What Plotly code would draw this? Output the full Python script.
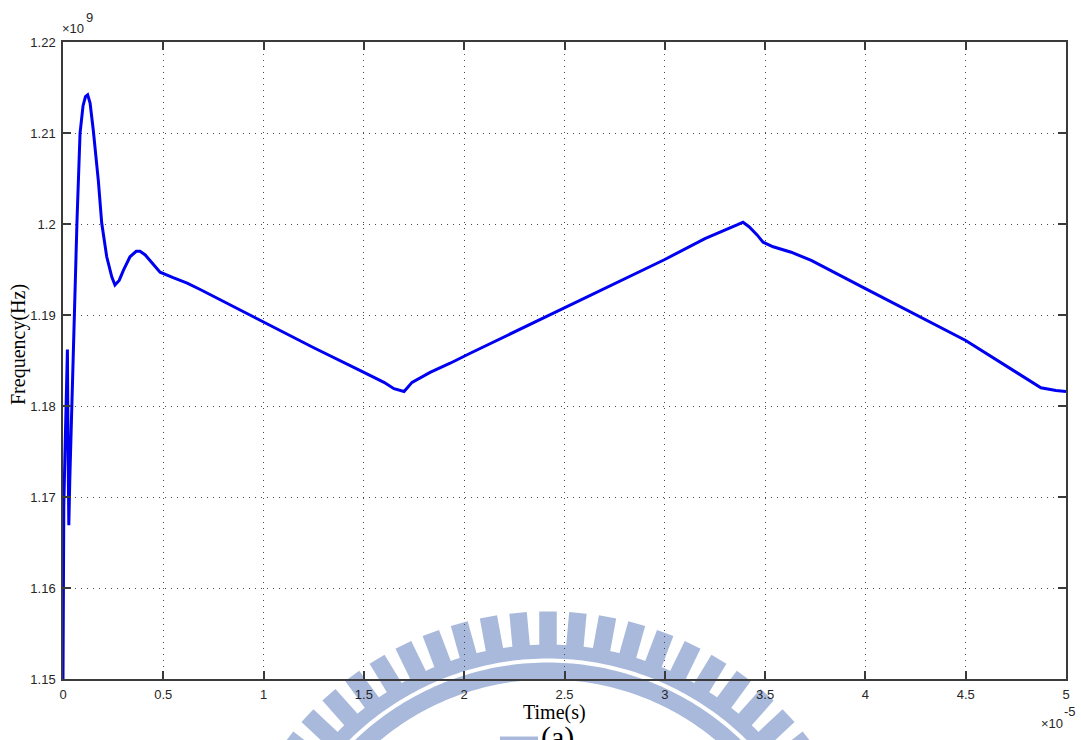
import math
import plotly.graph_objects as go

# Time in units of 1e-5 s, frequency in units of 1e9 Hz
time_e5 = [0.0, 0.0015, 0.004, 0.009, 0.014, 0.019, 0.022, 0.025, 0.029, 0.034,
           0.040, 0.047, 0.055, 0.060, 0.070, 0.085, 0.100, 0.112, 0.123, 0.135,
           0.151, 0.176, 0.193, 0.218, 0.243, 0.259, 0.280, 0.301, 0.334, 0.365,
           0.384, 0.410, 0.434, 0.484, 0.549, 0.619, 0.684, 0.85, 1.0, 1.25,
           1.5, 1.6, 1.65, 1.68, 1.70, 1.72, 1.74, 1.83, 1.93, 2.03,
           2.5, 3.0, 3.2, 3.3, 3.36, 3.39, 3.42, 3.46, 3.49, 3.54,
           3.63, 3.73, 3.84, 4.0, 4.5, 4.875, 4.95, 5.0]
freq_e9 = [1.1500, 1.1611, 1.1690, 1.1740, 1.1790, 1.1810, 1.1862, 1.1760, 1.1669, 1.1720,
           1.1770, 1.1830, 1.1890, 1.1924, 1.2005, 1.2100, 1.2130, 1.2140, 1.2142, 1.2133,
           1.2103, 1.2048, 1.2001, 1.1964, 1.1942, 1.1933, 1.1938, 1.1949, 1.1964, 1.1970,
           1.1970, 1.1966, 1.1960, 1.1947, 1.1941, 1.1935, 1.1928, 1.1909, 1.1892, 1.1864,
           1.1837, 1.1826, 1.1819, 1.1817, 1.1816, 1.1821, 1.1826, 1.1837, 1.1847, 1.1858,
           1.1908, 1.1961, 1.1984, 1.1993, 1.1999, 1.2002, 1.1997, 1.1988, 1.1980, 1.1975,
           1.1969, 1.1960, 1.1947, 1.1929, 1.1872, 1.1820, 1.1817, 1.1816]

x_tick_vals = [0, 0.5, 1, 1.5, 2, 2.5, 3, 3.5, 4, 4.5, 5]
x_tick_text = ["0", "0.5", "1", "1.5", "2", "2.5", "3", "3.5", "4", "4.5", "5"]
y_tick_vals = [1.15, 1.16, 1.17, 1.18, 1.19, 1.20, 1.21, 1.22]
y_tick_text = ["1.15", "1.16", "1.17", "1.18", "1.19", "1.2", "1.21", "1.22"]

W, H = 1081, 740
ML, MR, MT, MB = 63, 15, 42, 61
PW = W - ML - MR
PH = H - MT - MB


def paper_x(px):
    return (px - ML) / PW


def paper_y(py):
    return (H - MB - py) / PH


def path_from(points):
    s = "M " + " L ".join(f"{paper_x(a):.5f},{paper_y(b):.5f}" for a, b in points)
    return s + " Z"


# Watermark emblem (toothed ring) in page pixel geometry
CX, CY = 548.0, 941.5
EMBLEM = "#a9b9dc"


def arc_band(r_out, r_in, a0=-78, a1=78, step=1.0):
    pts = []
    n = int((a1 - a0) / step)
    for i in range(n + 1):
        a = math.radians(a0 + i * step)
        pts.append((CX + r_out * math.sin(a), CY - r_out * math.cos(a)))
    for i in range(n, -1, -1):
        a = math.radians(a0 + i * step)
        pts.append((CX + r_in * math.sin(a), CY - r_in * math.cos(a)))
    return path_from(pts)


def tooth(angle_deg, r_in, r_out, width):
    a = math.radians(angle_deg)
    ux, uy = math.sin(a), -math.cos(a)
    vx, vy = math.cos(a), math.sin(a)
    h = width / 2
    pts = [
        (CX + ux * r_in - vx * h, CY + uy * r_in - vy * h),
        (CX + ux * r_out - vx * h, CY + uy * r_out - vy * h),
        (CX + ux * r_out + vx * h, CY + uy * r_out + vy * h),
        (CX + ux * r_in + vx * h, CY + uy * r_in + vy * h),
    ]
    return path_from(pts)


shapes = []
for k in range(-15, 16):
    shapes.append(dict(type="path", path=tooth(k * 5.2, 296, 330, 17.5),
                       xref="paper", yref="paper", fillcolor=EMBLEM,
                       line=dict(width=0), layer="below"))
shapes.append(dict(type="path", path=arc_band(297, 283), xref="paper", yref="paper",
                   fillcolor=EMBLEM, line=dict(width=0), layer="below"))
shapes.append(dict(type="path", path=arc_band(279, 262), xref="paper", yref="paper",
                   fillcolor=EMBLEM, line=dict(width=0), layer="below"))
shapes.append(dict(type="rect", x0=paper_x(500), x1=paper_x(538), y0=paper_y(746),
                   y1=paper_y(736.5), xref="paper", yref="paper",
                   fillcolor=EMBLEM, line=dict(width=0), layer="below"))

fig = go.Figure()
fig.add_trace(go.Scatter(
    x=time_e5, y=freq_e9, mode="lines",
    line=dict(color="#0000f0", width=3),
    showlegend=False, hoverinfo="skip",
))

axis_common = dict(
    showline=True, linecolor="#3a3a3a", linewidth=1.5, mirror="allticks",
    ticks="inside", ticklen=8, tickwidth=1.5, tickcolor="#3a3a3a",
    showgrid=True, gridcolor="#4a4a4a", gridwidth=1.2, griddash="1px,5px",
    zeroline=False,
    tickfont=dict(family="Liberation Sans, Arial, sans-serif", size=13, color="#262626"),
)

fig.update_xaxes(range=[0, 5], tickvals=x_tick_vals, ticktext=x_tick_text,
                 ticklabelstandoff=3, **axis_common)
fig.update_yaxes(range=[1.15, 1.22], tickvals=y_tick_vals, ticktext=y_tick_text,
                 ticklabelstandoff=3, **axis_common)

sans = dict(family="Liberation Sans, Arial, sans-serif", size=13, color="#262626")
serif = "Liberation Serif, Times New Roman, serif"

annotations = [
    dict(text="×10", x=paper_x(61), y=paper_y(29), xanchor="left", yanchor="middle", font=sans),
    dict(text="9", x=paper_x(85), y=paper_y(17), xanchor="left", yanchor="middle", font=sans),
    dict(text="×10", x=paper_x(1040), y=paper_y(723), xanchor="left", yanchor="middle", font=sans),
    dict(text="-5", x=paper_x(1063), y=paper_y(711), xanchor="left", yanchor="middle", font=sans),
    dict(text="Time(s)", x=paper_x(554), y=paper_y(712), xanchor="center", yanchor="middle",
         font=dict(family=serif, size=20, color="black")),
    dict(text="Frequency(Hz)", x=paper_x(18), y=paper_y(345), xanchor="center", yanchor="middle",
         textangle=-90, font=dict(family=serif, size=20, color="black")),
    dict(text="(a)", x=paper_x(557), y=paper_y(719), xanchor="center", yanchor="top",
         font=dict(family=serif, size=30, color="black")),
]
for a in annotations:
    a.update(xref="paper", yref="paper", showarrow=False, borderpad=0)

fig.update_layout(
    width=W, height=H, autosize=False,
    margin=dict(l=ML, r=MR, t=MT, b=MB, pad=0),
    paper_bgcolor="white", plot_bgcolor="white",
    shapes=shapes, annotations=annotations,
)

fig.write_html("out.html")
